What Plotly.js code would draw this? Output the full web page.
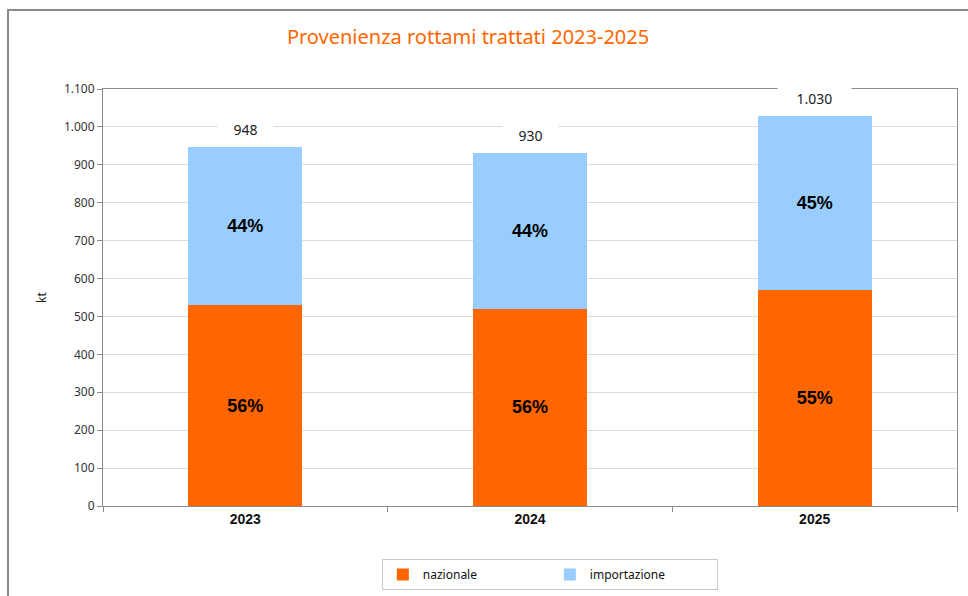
<!DOCTYPE html>
<html>
<head>
<meta charset="utf-8">
<script src="https://cdn.plot.ly/plotly-3.0.1.min.js"></script>
<style>
  html, body { margin: 0; padding: 0; background: #ffffff; overflow: hidden; }
  #frame { position: absolute; left: 7px; top: 9px; width: 1200px; height: 1200px;
           border: 2px solid #8a8a8a; box-shadow: 1px 1px 2px #bbb; pointer-events: none; z-index: 5; }
  #chart { position: absolute; left: 0; top: 0; width: 968px; height: 596px; }
</style>
</head>
<body>
<div id="chart"></div>
<div id="frame"></div>
<script>
// ---- data ----
const years = ['2023', '2024', '2025'];
const nazionale = [530, 520, 570];
const importazione = [418, 410, 460];
const seriesNames = ['nazionale', 'importazione'];
const seriesColors = ['#FF6600', '#99CCFF'];

// ---- derived ----
const totals = years.map((_, i) => nazionale[i] + importazione[i]);
const pct = (arr) => arr.map((v, i) => Math.round(v / totals[i] * 100) + '%');
const fmt = (n) => String(n).replace(/\B(?=(\d{3})+(?!\d))/g, '.');

const pctFont = { family: 'Liberation Sans, Arial, sans-serif', size: 18, color: '#000000', weight: 'bold' };

const traces = [
  {
    type: 'bar', name: seriesNames[0], x: years, y: nazionale,
    marker: { color: seriesColors[0] }, width: 0.4,
    text: pct(nazionale), texttemplate: '%{text}', textposition: 'inside',
    insidetextanchor: 'middle', insidetextfont: pctFont, textangle: 0, constraintext: 'none',
    hoverinfo: 'skip'
  },
  {
    type: 'bar', name: seriesNames[1], x: years, y: importazione,
    marker: { color: seriesColors[1] }, width: 0.4,
    text: pct(importazione), texttemplate: '%{text}', textposition: 'inside',
    insidetextanchor: 'middle', insidetextfont: pctFont, textangle: 0, constraintext: 'none',
    hoverinfo: 'skip'
  }
];

const annotations = years.map((yr, i) => {
  const label = fmt(totals[i]);
  return {
    x: i, y: totals[i], xref: 'x', yref: 'y',
    text: label, showarrow: false,
    yanchor: 'bottom', yshift: 4,
    width: label.length * 9 + 22,
    bgcolor: '#ffffff', borderpad: 3,
    font: { family: 'Noto Sans, sans-serif', size: 14, color: '#222222' }
  };
});

const layout = {
  width: 968, height: 596,
  margin: { l: 103, r: 11, t: 89, b: 90 },
  paper_bgcolor: 'rgba(0,0,0,0)', plot_bgcolor: '#ffffff',
  separators: ',.',
  barmode: 'stack',
  showlegend: true,
  title: {
    text: 'Provenienza rottami trattati 2023-2025',
    font: { family: 'Noto Sans, sans-serif', size: 20, color: '#FF6600' },
    x: 0.4835, xanchor: 'center', xref: 'container',
    y: 0.938, yanchor: 'middle', yref: 'container'
  },
  xaxis: {
    type: 'category', range: [-0.5, 2.5], autorange: false,
    showline: true, linecolor: '#8a8a8a', linewidth: 1, mirror: true,
    ticks: 'outside', tickson: 'boundaries', ticklen: 5, tickcolor: '#8a8a8a',
    tickangle: 0,
    tickfont: { family: 'Liberation Sans, Arial, sans-serif', size: 14, color: '#111111', weight: 'bold' },
    showgrid: false, fixedrange: true
  },
  yaxis: {
    range: [0, 1100], autorange: false, dtick: 100, tick0: 0,
    tickformat: ',d',
    showline: true, linecolor: '#8a8a8a', linewidth: 1, mirror: true,
    ticks: 'outside', ticklen: 5, tickcolor: '#8a8a8a',
    showgrid: true, gridcolor: '#dcdcdc', gridwidth: 1,
    zeroline: false,
    tickfont: { family: 'Noto Sans, sans-serif', size: 12, color: '#333333' },
    title: { text: 'kt', standoff: 14, font: { family: 'Noto Sans, sans-serif', size: 12, color: '#222222' } },
    fixedrange: true
  },
  legend: {
    orientation: 'h', xref: 'container', yref: 'container',
    x: 0.568, xanchor: 'center', y: 0.062, yanchor: 'top',
    bordercolor: '#c8c8c8', borderwidth: 1, bgcolor: '#ffffff',
    font: { family: 'Noto Sans, sans-serif', size: 12, color: '#111111' },
    entrywidth: 122, traceorder: 'normal', itemclick: false, itemdoubleclick: false
  },
  annotations: annotations
};

Plotly.newPlot('chart', traces, layout, { displayModeBar: false, staticPlot: true });
</script>
</body>
</html>
